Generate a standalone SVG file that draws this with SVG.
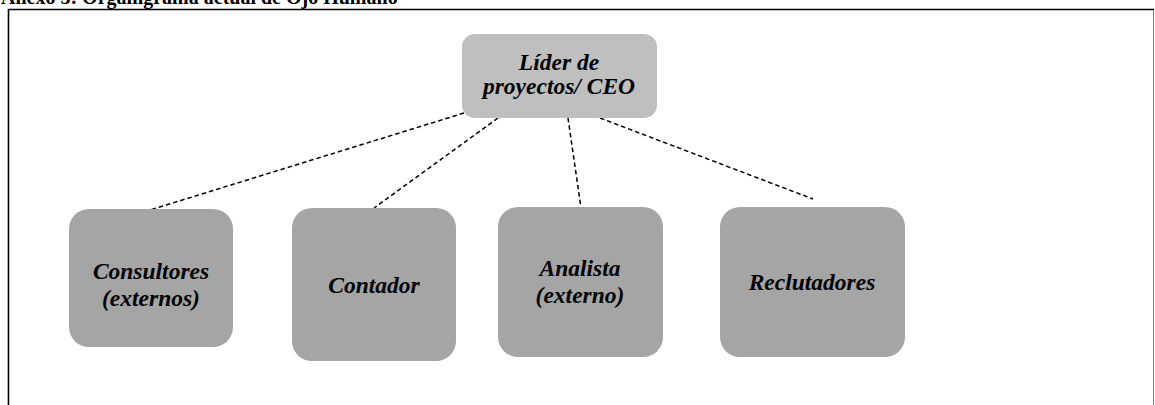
<svg xmlns="http://www.w3.org/2000/svg" width="1155" height="405" viewBox="0 0 1155 405">
  <style>
    .title { font-family: "Liberation Serif", "Times New Roman", serif; font-weight: bold; font-size: 20px; fill: #000; }
    .lbl { font-family: "Liberation Serif", "Times New Roman", serif; font-weight: bold; font-style: italic; font-size: 23.5px; fill: #000; text-anchor: middle; }
    .top { fill: #bfbfbf; }
    .box { fill: #a5a5a5; }
    .link { stroke: #000; stroke-width: 1.5; stroke-dasharray: 4.5 3; fill: none; }
  </style>
  <rect width="1155" height="405" fill="#fff"/>

  <!-- heading, clipped by the top edge -->
  <text class="title" x="1" y="4">Anexo 5: Organigrama actual de Ojo Humano</text>

  <!-- frame -->
  <line x1="8" y1="9.5" x2="1154" y2="9.5" stroke="#000" stroke-width="1.6"/>
  <line x1="8.5" y1="9" x2="8.5" y2="405" stroke="#000" stroke-width="1.6"/>
  <line x1="1153.5" y1="10" x2="1153.5" y2="405" stroke="#808080" stroke-width="1"/>

  <!-- dashed connectors -->
  <g id="connectors">
    <line class="link" x1="464" y1="113" x2="150" y2="210"/>
    <line class="link" x1="498" y1="118" x2="374" y2="208"/>
    <line class="link" x1="568" y1="118" x2="581" y2="208"/>
    <line class="link" x1="600" y1="118" x2="813" y2="199"/>
  </g>

  <g id="ceo">
    <rect class="top" x="462" y="34" width="195" height="84" rx="13"/>
    <text class="lbl" x="559" y="70">Líder de</text>
    <text class="lbl" x="559" y="94">proyectos/ CEO</text>
  </g>

  <g id="consultores">
    <rect class="box" x="69" y="209" width="164" height="138" rx="20"/>
    <text class="lbl" x="151" y="279">Consultores</text>
    <text class="lbl" x="151" y="306">(externos)</text>
  </g>

  <g id="contador">
    <rect class="box" x="292" y="208" width="164" height="153" rx="20"/>
    <text class="lbl" x="374" y="293">Contador</text>
  </g>

  <g id="analista">
    <rect class="box" x="498" y="207" width="165" height="150" rx="20"/>
    <text class="lbl" x="580" y="276">Analista</text>
    <text class="lbl" x="580" y="303">(externo)</text>
  </g>

  <g id="reclutadores">
    <rect class="box" x="720" y="207" width="185" height="150" rx="20"/>
    <text class="lbl" x="812" y="290">Reclutadores</text>
  </g>
</svg>
